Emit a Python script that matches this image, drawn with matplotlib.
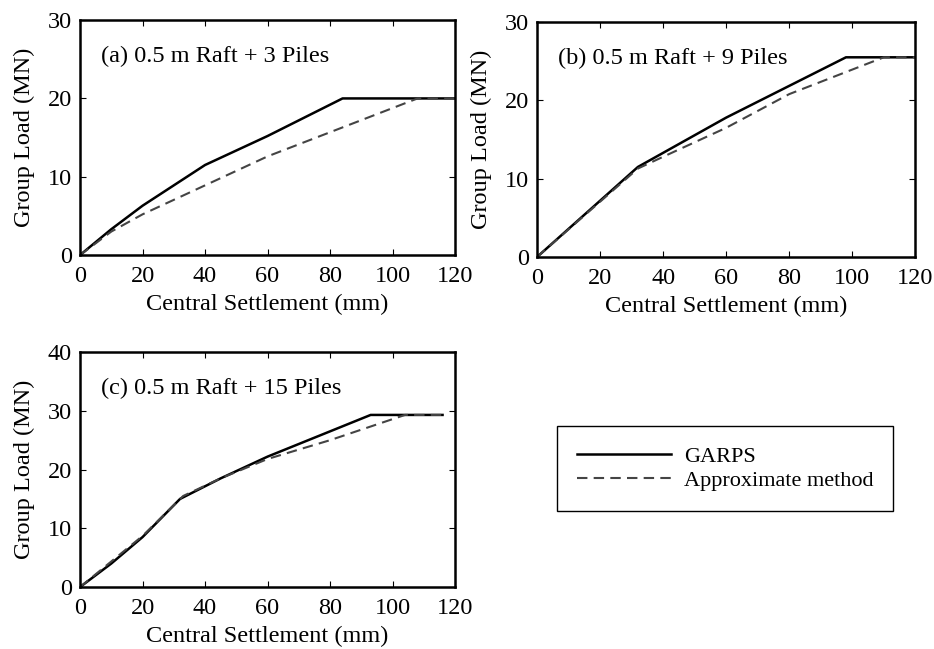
import matplotlib
matplotlib.use("Agg")
import matplotlib.pyplot as plt

plt.rcParams["font.family"] = ["Liberation Serif", "DejaVu Serif"]
plt.rcParams["font.size"] = 17.5

# (a) 0.5 m raft + 3 piles
a_garps_x = [0, 10, 20, 40, 60, 84, 120]
a_garps_y = [0, 3.3, 6.3, 11.5, 15.2, 20, 20]
a_appr_x = [0, 10, 20, 60, 108, 120]
a_appr_y = [0, 3.0, 5.2, 12.6, 20, 20]

# (b) 0.5 m raft + 9 piles
b_garps_x = [0, 32, 60, 98, 120]
b_garps_y = [0, 11.5, 17.8, 25.5, 25.5]
b_appr_x = [0, 32, 40, 60, 80, 110, 120]
b_appr_y = [0, 11.3, 12.8, 16.5, 20.8, 25.5, 25.5]

# (c) 0.5 m raft + 15 piles
c_garps_x = [0, 10, 20, 32, 45, 60, 93, 116]
c_garps_y = [0, 4.0, 8.5, 15.0, 18.5, 22.2, 29.3, 29.3]
c_appr_x = [0, 20, 33, 45, 60, 80, 104, 116]
c_appr_y = [0, 8.7, 15.5, 18.5, 21.8, 25.0, 29.3, 29.3]

panels = [
    ("(a) 0.5 m Raft + 3 Piles", a_garps_x, a_garps_y, a_appr_x, a_appr_y, 30, [0.0857, 0.607, 0.4015, 0.362]),
    ("(b) 0.5 m Raft + 9 Piles", b_garps_x, b_garps_y, b_appr_x, b_appr_y, 30, [0.575, 0.604, 0.405, 0.362]),
    ("(c) 0.5 m Raft + 15 Piles", c_garps_x, c_garps_y, c_appr_x, c_appr_y, 40, [0.0857, 0.0955, 0.4015, 0.362]),
]

fig = plt.figure(figsize=(9.34, 6.49), dpi=100)

for title, gx, gy, ax_, ay, ymax, pos in panels:
    ax = fig.add_axes(pos)
    l1, = ax.plot(gx, gy, color="black", lw=1.8, label="GARPS")
    l2, = ax.plot(ax_, ay, color="#444444", lw=1.5, ls=(0, (5, 3)), label="Approximate method")
    ax.set_xlim(0, 120)
    ax.set_ylim(0, ymax)
    ax.set_xticks(range(0, 121, 20))
    ax.set_yticks(range(0, ymax + 1, 10))
    ax.tick_params(direction="in", top=True, right=True, length=4, pad=8)
    ax.tick_params(axis="y", pad=6)
    for s in ax.spines.values():
        s.set_linewidth(1.8)
    ax.set_xlabel("Central Settlement (mm)", labelpad=5)
    ax.set_ylabel("Group Load (MN)", labelpad=9)
    ax.text(0.055, 0.82, title, transform=ax.transAxes, fontsize=17.5)

fig.legend([l1, l2], ["GARPS", "Approximate method"], loc="center",
           bbox_to_anchor=(0.597, 0.203, 0.359, 0.150), fancybox=False,
           edgecolor="black", framealpha=1, handlelength=4.2, fontsize=16,
           borderpad=0.9, labelspacing=0.15, handletextpad=0.6)

fig.savefig("out.png", dpi=100)
